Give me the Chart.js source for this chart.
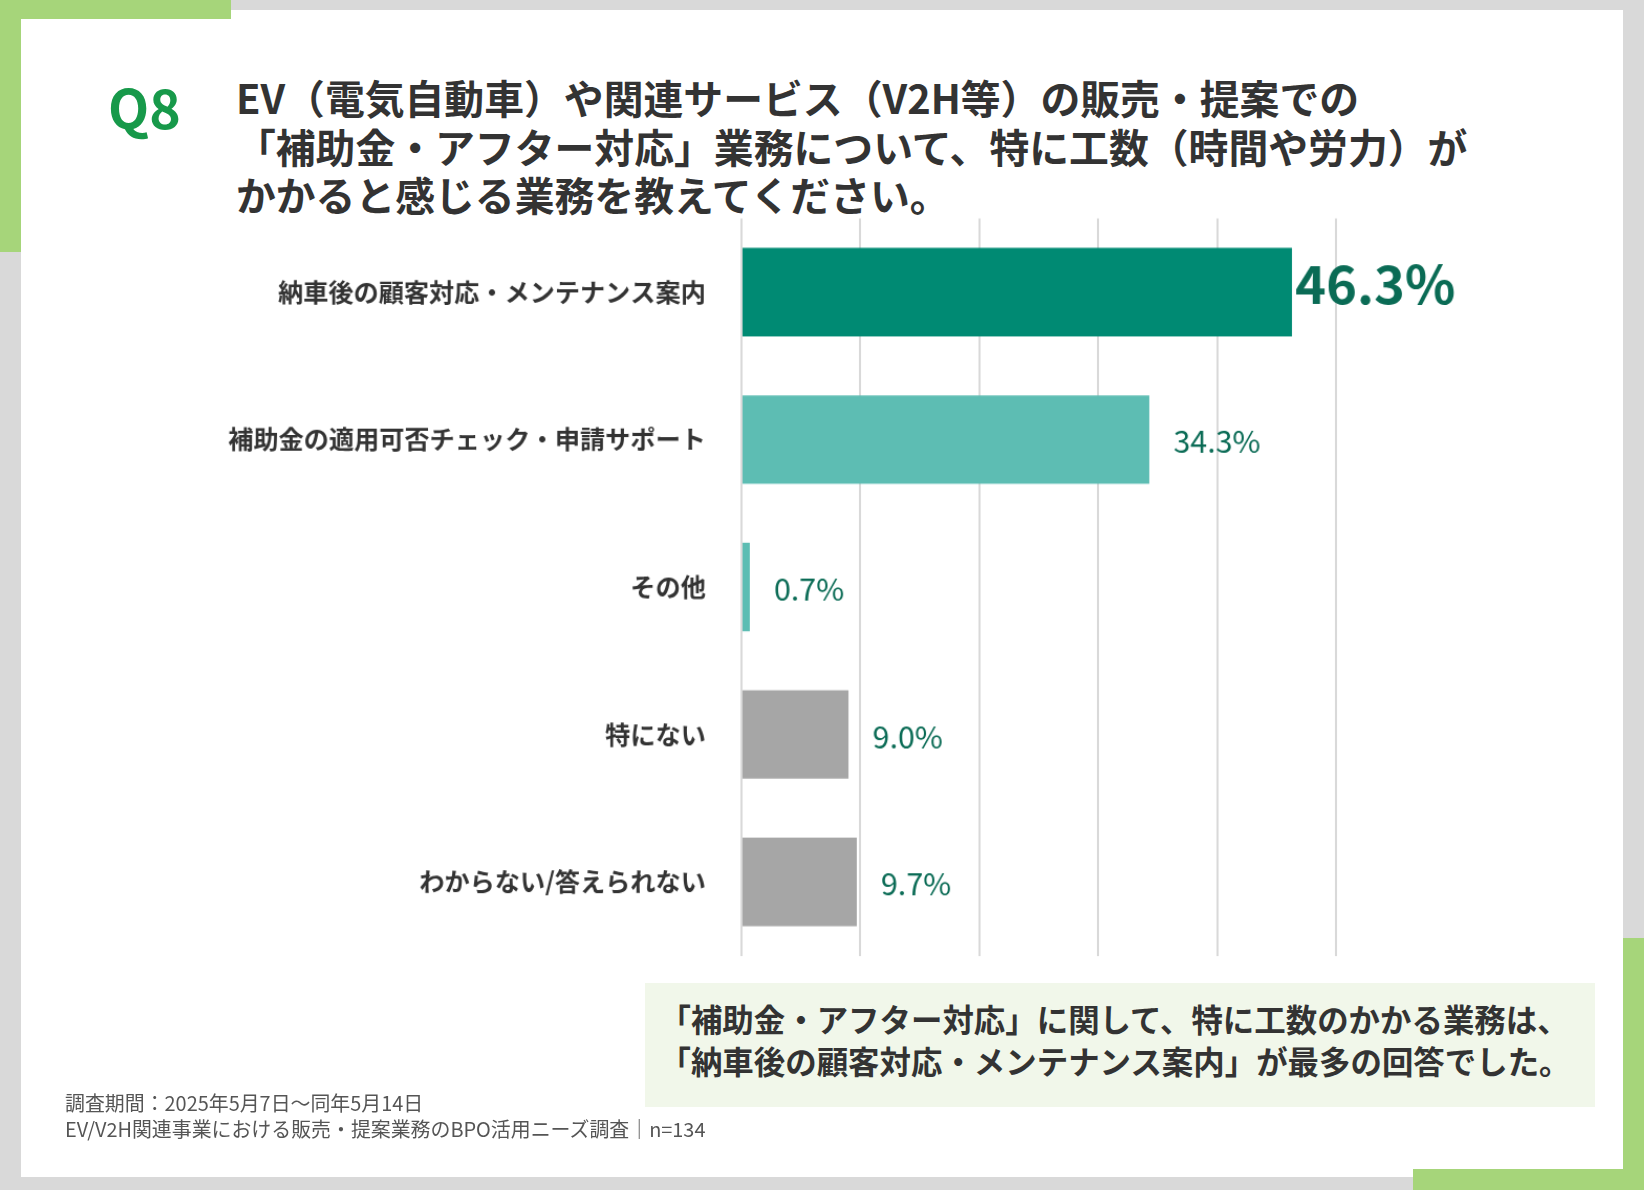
<!DOCTYPE html>
<html><head><meta charset="utf-8">
<script src="https://cdn.jsdelivr.net/npm/chart.js"></script>
<style>
html,body{margin:0;background:#d9d9d9;overflow:hidden}
#wrap{position:relative;width:1568px;height:1135px;background:#d9d9d9;zoom:1.0485;font-family:"Noto Sans CJK JP","Noto Sans",sans-serif}
.abs{position:absolute}
#panel{left:20px;top:10px;width:1528px;height:1113px;background:#fff}
.g{background:#a6d57a}
#title{left:225px;top:70px;font-size:38px;font-weight:bold;color:#333;line-height:46px;white-space:nowrap}
#q{left:103px;top:64px;font-size:51px;font-weight:bold;color:#17994a}
#note{left:615px;top:938px;width:906px;height:118px;background:#f1f7ea;box-sizing:border-box;padding:14px 0 0 14px;font-size:30px;font-weight:bold;color:#333;line-height:40px;white-space:nowrap}
#foot{left:62px;top:1040px;font-size:19px;color:#555;line-height:24px;white-space:nowrap}
</style></head><body>
<div id="wrap">
 <div class="abs" id="panel"></div>
 <div class="abs g" style="left:0;top:0;width:220px;height:18px"></div>
 <div class="abs g" style="left:0;top:0;width:20px;height:240px"></div>
 <div class="abs g" style="left:1348px;top:1115px;width:220px;height:20px"></div>
 <div class="abs g" style="left:1548px;top:895px;width:20px;height:240px"></div>
 <div class="abs" id="q">Q8</div>
 <div class="abs" id="title">EV（電気自動車）や関連サービス（V2H等）の販売・提案での<br>「補助金・アフター対応」業務について、特に工数（時間や労力）が<br>かかると感じる業務を教えてください。</div>
 <div class="abs" style="left:120px;top:168px;width:1340px;height:784px"><canvas id="c" width="1340" height="784"></canvas></div>
 <div class="abs" id="note">「補助金・アフター対応」に関して、特に工数のかかる業務は、<br>「納車後の顧客対応・メンテナンス案内」が最多の回答でした。</div>
 <div class="abs" id="foot">調査期間：2025年5月7日〜同年5月14日<br>EV/V2H関連事業における販売・提案業務のBPO活用ニーズ調査｜n=134</div>
</div>
<script>
const categories = ['納車後の顧客対応・メンテナンス案内','補助金の適用可否チェック・申請サポート','その他','特にない','わからない/答えられない'];
const values = [46.3, 34.3, 0.7, 9.0, 9.7];
const barColors = ['#008a73','#5dbdb3','#5dbdb3','#a6a6a6','#a6a6a6'];

const labelPlugin = {
  id: 'vals',
  afterDatasetsDraw(chart) {
    const ctx = chart.ctx;
    const meta = chart.getDatasetMeta(0);
    meta.data.forEach((bar, i) => {
      ctx.save();
      ctx.textBaseline = 'middle';
      ctx.fillStyle = '#0a6b55';
      if (i === 0) {
        ctx.font = 'bold 50px "Noto Sans CJK JP"';
        ctx.fillText(values[i].toFixed(1) + '%', bar.x + 3, bar.y - 8);
      } else {
        ctx.font = '29px "Noto Sans CJK JP"';
        ctx.fillText(values[i].toFixed(1) + '%', bar.x + 23, bar.y + 2);
      }
      ctx.restore();
    });
  }
};

new Chart(document.getElementById('c'), {
  type: 'bar',
  data: { labels: categories, datasets: [{ data: values, backgroundColor: barColors, barPercentage: 0.6, categoryPercentage: 1 }] },
  options: {
    indexAxis: 'y', responsive: false, animation: false,
    layout: { padding: { right: 186, top: 0, bottom: 0, left: 0 } },
    plugins: { legend: { display: false }, tooltip: { enabled: false } },
    scales: {
      x: { min: 0, max: 50, ticks: { stepSize: 10, display: false }, grid: { color: '#d9d9d9', lineWidth: 2, drawTicks: false }, border: { display: false } },
      y: {
        grid: { display: false }, border: { display: false },
        ticks: { color: '#333', padding: 26, font: { size: 24, weight: 'bold', family: '"Noto Sans CJK JP"' } },
        afterFit(s) { s.width = 587; }
      }
    }
  },
  plugins: [labelPlugin]
});
</script>
</body></html>
